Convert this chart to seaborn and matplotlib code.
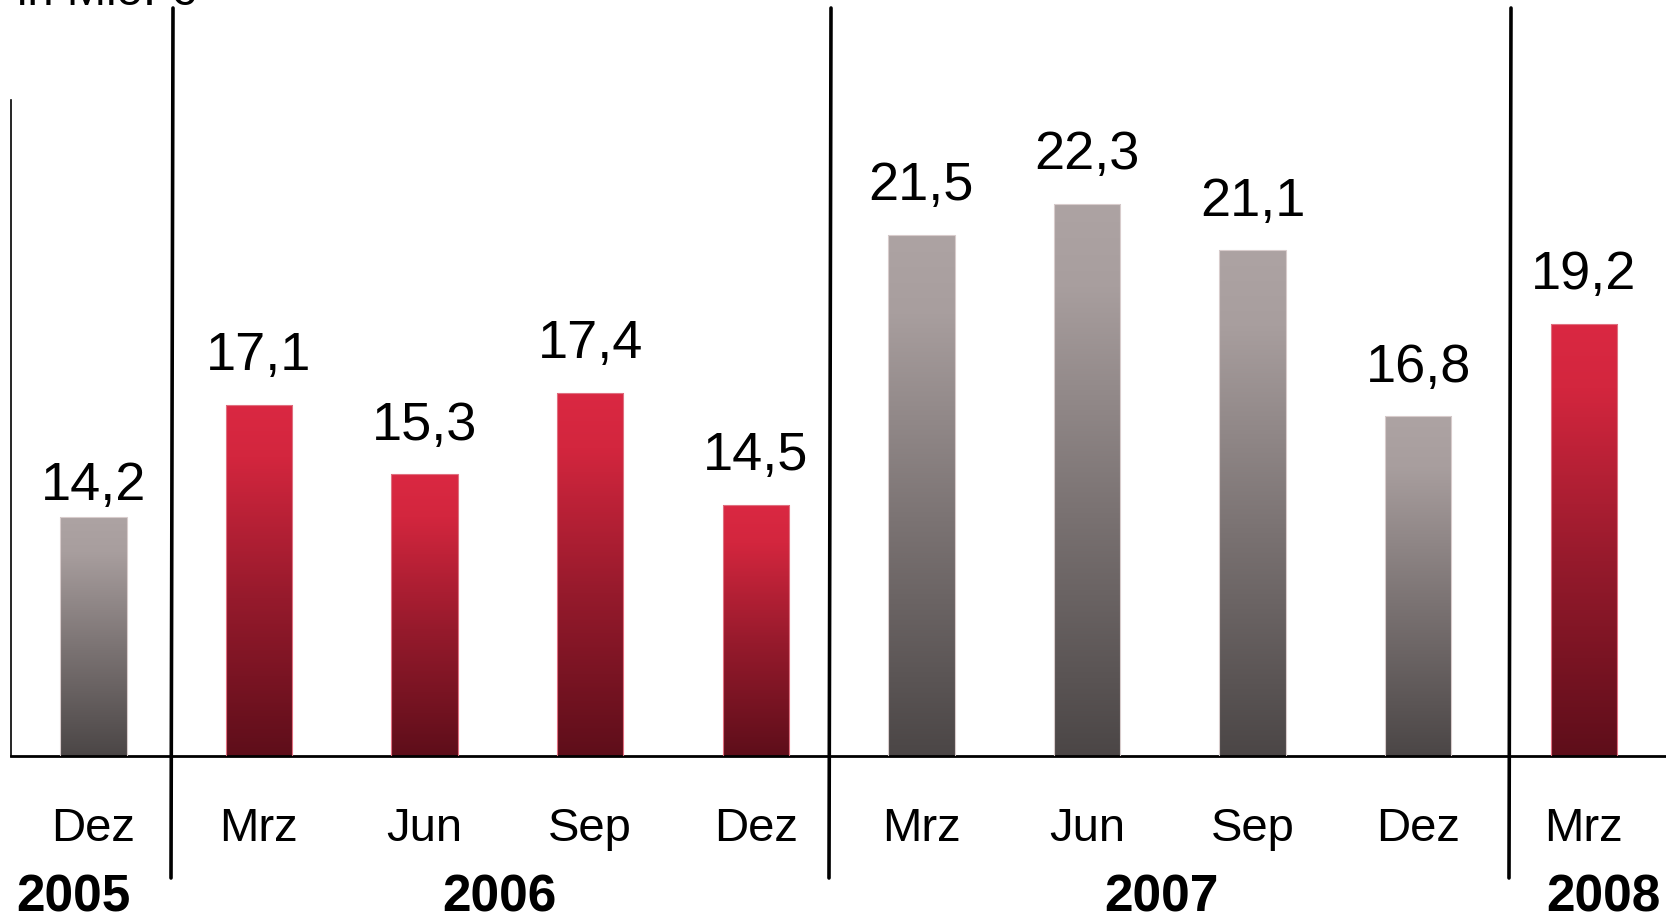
import numpy as np
import pandas as pd
import matplotlib.pyplot as plt
import seaborn as sns
from matplotlib.colors import LinearSegmentedColormap
from matplotlib.lines import Line2D
from matplotlib.transforms import blended_transform_factory

# Data (in Mio. EUR, quarterly)
periods = ["Dez 2005", "Mrz 2006", "Jun 2006", "Sep 2006", "Dez 2006",
           "Mrz 2007", "Jun 2007", "Sep 2007", "Dez 2007", "Mrz 2008"]
months = ["Dez", "Mrz", "Jun", "Sep", "Dez", "Mrz", "Jun", "Sep", "Dez", "Mrz"]
values = [14.2, 17.1, 15.3, 17.4, 14.5, 21.5, 22.3, 21.1, 16.8, 19.2]
years = ["2005", "2006", "2006", "2006", "2006", "2007", "2007", "2007", "2007", "2008"]
year_labels = ["2005", "2006", "2007", "2008"]

df = pd.DataFrame({"period": periods, "month": months, "value": values, "year": years})
# 2006 and 2008 are red, 2005 and 2007 grey
df["tone"] = np.where(df["year"].isin(["2006", "2008"]), "red", "grey")

sns.set_theme(style="white")
plt.rcParams["font.family"] = ["Liberation Sans", "DejaVu Sans"]
plt.rcParams["text.color"] = "black"
plt.rcParams["xtick.color"] = "black"

fig = plt.figure(figsize=(16.66, 9.15), dpi=100)
ax = fig.add_axes([0.00636, 0.1738, 0.994, 0.717])

sns.barplot(data=df, x="period", y="value", hue="tone", order=periods,
            palette={"red": "#c82238", "grey": "#8c8484"}, dodge=False,
            width=0.4, legend=False, ax=ax)

ymin, ymax = 8, 25
ax.set_ylim(ymin, ymax)
ax.set_xlim(-0.5, len(periods) - 0.5)

# gradient fills, each bar from its own top down to the axis
ramps = {
    "grey": LinearSegmentedColormap.from_list("g", [(0, "#4b4646"), (0.45, "#7b7373"),
                                                    (0.85, "#a89e9e"), (1, "#ada3a3")]),
    "red": LinearSegmentedColormap.from_list("r", [(0, "#5e0e1a"), (0.45, "#961a2c"),
                                                   (0.85, "#d3263e"), (1, "#da2842")]),
}
grad = np.linspace(0, 1, 256)[::-1].reshape(-1, 1)
bars = sorted(ax.patches, key=lambda p: p.get_x())
for patch, tone in zip(bars, df["tone"]):
    x0 = patch.get_x()
    w = patch.get_width()
    top = patch.get_y() + patch.get_height()
    img = ax.imshow(grad, cmap=ramps[tone], aspect="auto", interpolation="bilinear",
                    extent=[x0, x0 + w, ymin, top], zorder=2)
    img.set_clip_path(patch)
    patch.set_facecolor("none")
    patch.set_edgecolor("#d8cccc" if tone == "grey" else "#e07080")
    patch.set_linewidth(0.8)
    patch.set_zorder(3)

ax.set_xlim(-0.5, len(periods) - 0.5)
ax.set_ylim(ymin, ymax)

# value labels (the first one sits a bit closer to its bar in the original)
for i, v in enumerate(values):
    gap = 12 if i == 0 else 25
    ax.annotate(f"{v:.1f}".replace(".", ","), (i, v), xytext=(0, gap),
                textcoords="offset points", ha="center", va="baseline",
                fontsize=39, color="black")

ax.set_xticks(range(len(periods)))
ax.set_xticklabels(months, fontsize=34, color="black")
ax.tick_params(axis="x", length=0, pad=37)
ax.set_yticks([])
ax.set_xlabel("")
ax.set_ylabel("")

for side in ["top", "right"]:
    ax.spines[side].set_visible(False)
ax.spines["left"].set_color("black")
ax.spines["left"].set_linewidth(1.2)
ax.spines["bottom"].set_color("black")
ax.spines["bottom"].set_linewidth(2)

# year separators (slightly slanted like the original)
W, H = 1666, 915
for xb, xt in [(171, 173), (829, 831), (1509, 1511)]:
    fig.add_artist(Line2D([xb / W, xt / W], [(H - 878) / H, (H - 8) / H],
                          transform=fig.transFigure, color="black", lw=2.6))

# year labels
trans = blended_transform_factory(ax.transData, fig.transFigure)
ybase = 4 / H
for yr in year_labels:
    idx = [i for i, y in enumerate(years) if y == yr]
    xc = np.mean(idx)
    if yr == year_labels[0]:
        fig.text(16 / W, ybase, yr, ha="left", va="baseline", fontsize=37,
                 fontweight="bold", color="black")
    elif yr == year_labels[-1]:
        fig.text(1546 / W, ybase, yr, ha="left", va="baseline", fontsize=37,
                 fontweight="bold", color="black")
    else:
        ax.text(xc - 0.05, ybase, yr, transform=trans, ha="center", va="baseline",
                fontsize=37, fontweight="bold", color="black")

fig.text(17 / W, (H - 5) / H, "in Mio. €", ha="left", va="baseline", fontsize=34,
         color="black")

fig.savefig("out.png", dpi=100, facecolor="white")
